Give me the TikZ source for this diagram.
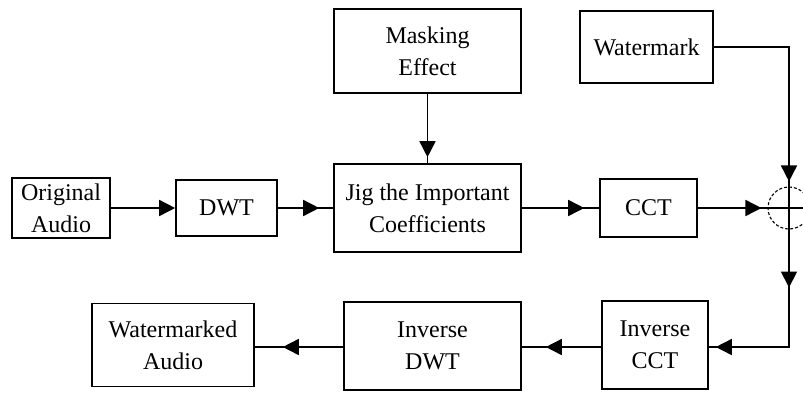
\documentclass[tikz,border=0pt]{standalone}
\usepackage{fontspec}
\setmainfont{Liberation Serif}
\usetikzlibrary{arrows.meta,decorations.markings}
\tikzset{
  box/.style={draw, line width=1.6pt, inner sep=0pt, align=center,
    font=\fontsize{24}{32}\selectfont},
  conn/.style={line width=1.6pt},
  tipshape/.tip={Triangle[length=16pt,width=16pt]},
  tipfromend/.style={postaction=decorate, decoration={markings,
    mark=at position -#1 with {\arrow{tipshape}}}},
}
\begin{document}
\begin{tikzpicture}[x=1pt,y=-1pt]
\useasboundingbox (0,0) rectangle (803,392);
\clip (0,0) rectangle (803,392);
\fill[white] (0,0) rectangle (803,392);
% top-row nodes
\node[box, minimum width=98pt, minimum height=60pt] (orig) at (61,208) {Original\\Audio};
\node[box, minimum width=101pt, minimum height=56pt] (dwt) at (226.5,208) {DWT};
\node[box, minimum width=187pt, minimum height=88pt] (jig) at (427.5,208) {Jig the Important\\Coefficients};
\node[box, minimum width=187pt, minimum height=84pt] (mask) at (427.5,51) {Masking\\Effect};
\node[box, minimum width=97pt, minimum height=58pt] (cct) at (648.5,208) {CCT};
\node[box, minimum width=133pt, minimum height=72pt] (wm) at (646.5,47) {Watermark};
\node[draw, circle, dashed, dash pattern=on 3pt off 2pt, line width=1.1pt, minimum size=42pt, inner sep=0pt] (sum) at (789,208) {};
% bottom-row nodes
\node[box, minimum width=106pt, minimum height=88pt] (invcct) at (655,345) {Inverse\\CCT};
\node[box, minimum width=177pt, minimum height=88pt] (invdwt) at (432.5,346) {Inverse\\DWT};
\node[box, minimum width=162pt, minimum height=83pt] (wa) at (173,345) {Watermarked\\Audio};
\coordinate (corner) at (789,347);
% connectors
\draw[conn, -{tipshape}] (orig.east) -- (dwt.west);
\draw[conn, tipfromend=14pt] (dwt.east) -- (jig.west);
\draw[conn, tipfromend=6pt] (mask.south) -- (jig.north);
\draw[conn, tipfromend=15pt] (jig.east) -- (cct.west);
\draw[conn, tipfromend=6pt] (cct.east) -- (sum.west);
\draw[conn] (sum.west) -- (sum.east) -- ++(30,0);
\draw[conn] (sum.north) -- (sum.south);
\draw[conn, tipfromend=5pt] (wm.east) -| (sum.north);
\draw[conn, postaction=decorate, decoration={markings,
    mark=at position 58pt with {\arrow{tipshape}},
    mark=at position -7pt with {\arrow{tipshape}}}]
  (sum.south) -- (corner) -- (invcct.east |- corner);
\draw[conn, tipfromend=24pt] (invcct.west |- corner) -- (invdwt.east |- corner);
\draw[conn, tipfromend=28pt] (invdwt.west |- corner) -- (wa.east |- corner);
\end{tikzpicture}
\end{document}
